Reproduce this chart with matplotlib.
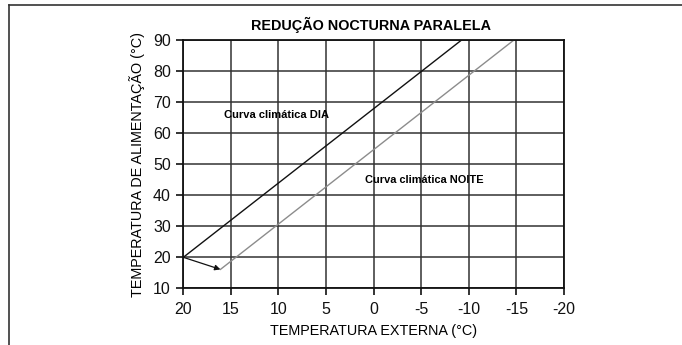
import matplotlib
matplotlib.use('Agg')
import matplotlib.pyplot as plt
from matplotlib.lines import Line2D

plt.rcParams['font.family'] = ['Liberation Sans', 'DejaVu Sans']

# curves
day_x = [20, -9.2]
day_y = [20, 90]
night_x = [16.1, -14.7]
night_y = [16.1, 90]

xticks = [20, 15, 10, 5, 0, -5, -10, -15, -20]
yticks = [10, 20, 30, 40, 50, 60, 70, 80, 90]

title = 'REDUÇÃO NOCTURNA PARALELA'
xlabel = 'TEMPERATURA EXTERNA (°C)'
ylabel = 'TEMPERATURA DE ALIMENTAÇÃO (°C)'
day_label = 'Curva climática DIA'
night_label = 'Curva climática NOITE'

fig = plt.figure(figsize=(6.82, 3.45), dpi=100)
ax = fig.add_axes([0.2688, 0.1643, 0.827 - 0.2688, 0.8832 - 0.1643])

ax.set_xlim(20, -20)
ax.set_ylim(10, 90)
ax.set_xticks(xticks)
ax.set_xticklabels([str(t) for t in xticks])
ax.set_yticks(yticks)
ax.grid(True, color='#333333', linewidth=1.1)
ax.set_axisbelow(True)
for s in ax.spines.values():
    s.set_linewidth(1.3)
    s.set_color('#111111')
ax.tick_params(direction='out', length=5, width=1.2, labelsize=11.5, colors='#111111')
ax.tick_params(axis='x', pad=5)
ax.tick_params(axis='y', pad=4)

ax.plot(day_x, day_y, color='#111111', linewidth=1.0)
ax.plot(night_x, night_y, color='#8c8c8c', linewidth=1.0)
ax.annotate('', xy=(night_x[0], night_y[0]), xytext=(day_x[0], day_y[0]),
            arrowprops=dict(arrowstyle='-|>', color='#111111', lw=0.9,
                            mutation_scale=8, shrinkA=0, shrinkB=0))

ax.text(10.2, 65.9, day_label, fontsize=8, fontweight='bold', ha='center', va='center')
ax.text(-5.3, 44.9, night_label, fontsize=7.9, fontweight='bold', ha='center', va='center')

fig.text(371 / 682, 1 - 25 / 345, title, fontsize=10.4, fontweight='bold', ha='center', va='center')
ax.set_xlabel(xlabel, fontsize=10.4, labelpad=5)
ax.set_ylabel(ylabel, fontsize=10.4, labelpad=6)

# frame round the picture: top and left only
fig.add_artist(Line2D([9 / 682, 1], [1 - 4.5 / 345, 1 - 4.5 / 345], color='#333333', linewidth=1.2))
fig.add_artist(Line2D([9 / 682, 9 / 682], [0, 1 - 4.5 / 345], color='#333333', linewidth=1.2))

fig.savefig('out.png', dpi=100)
